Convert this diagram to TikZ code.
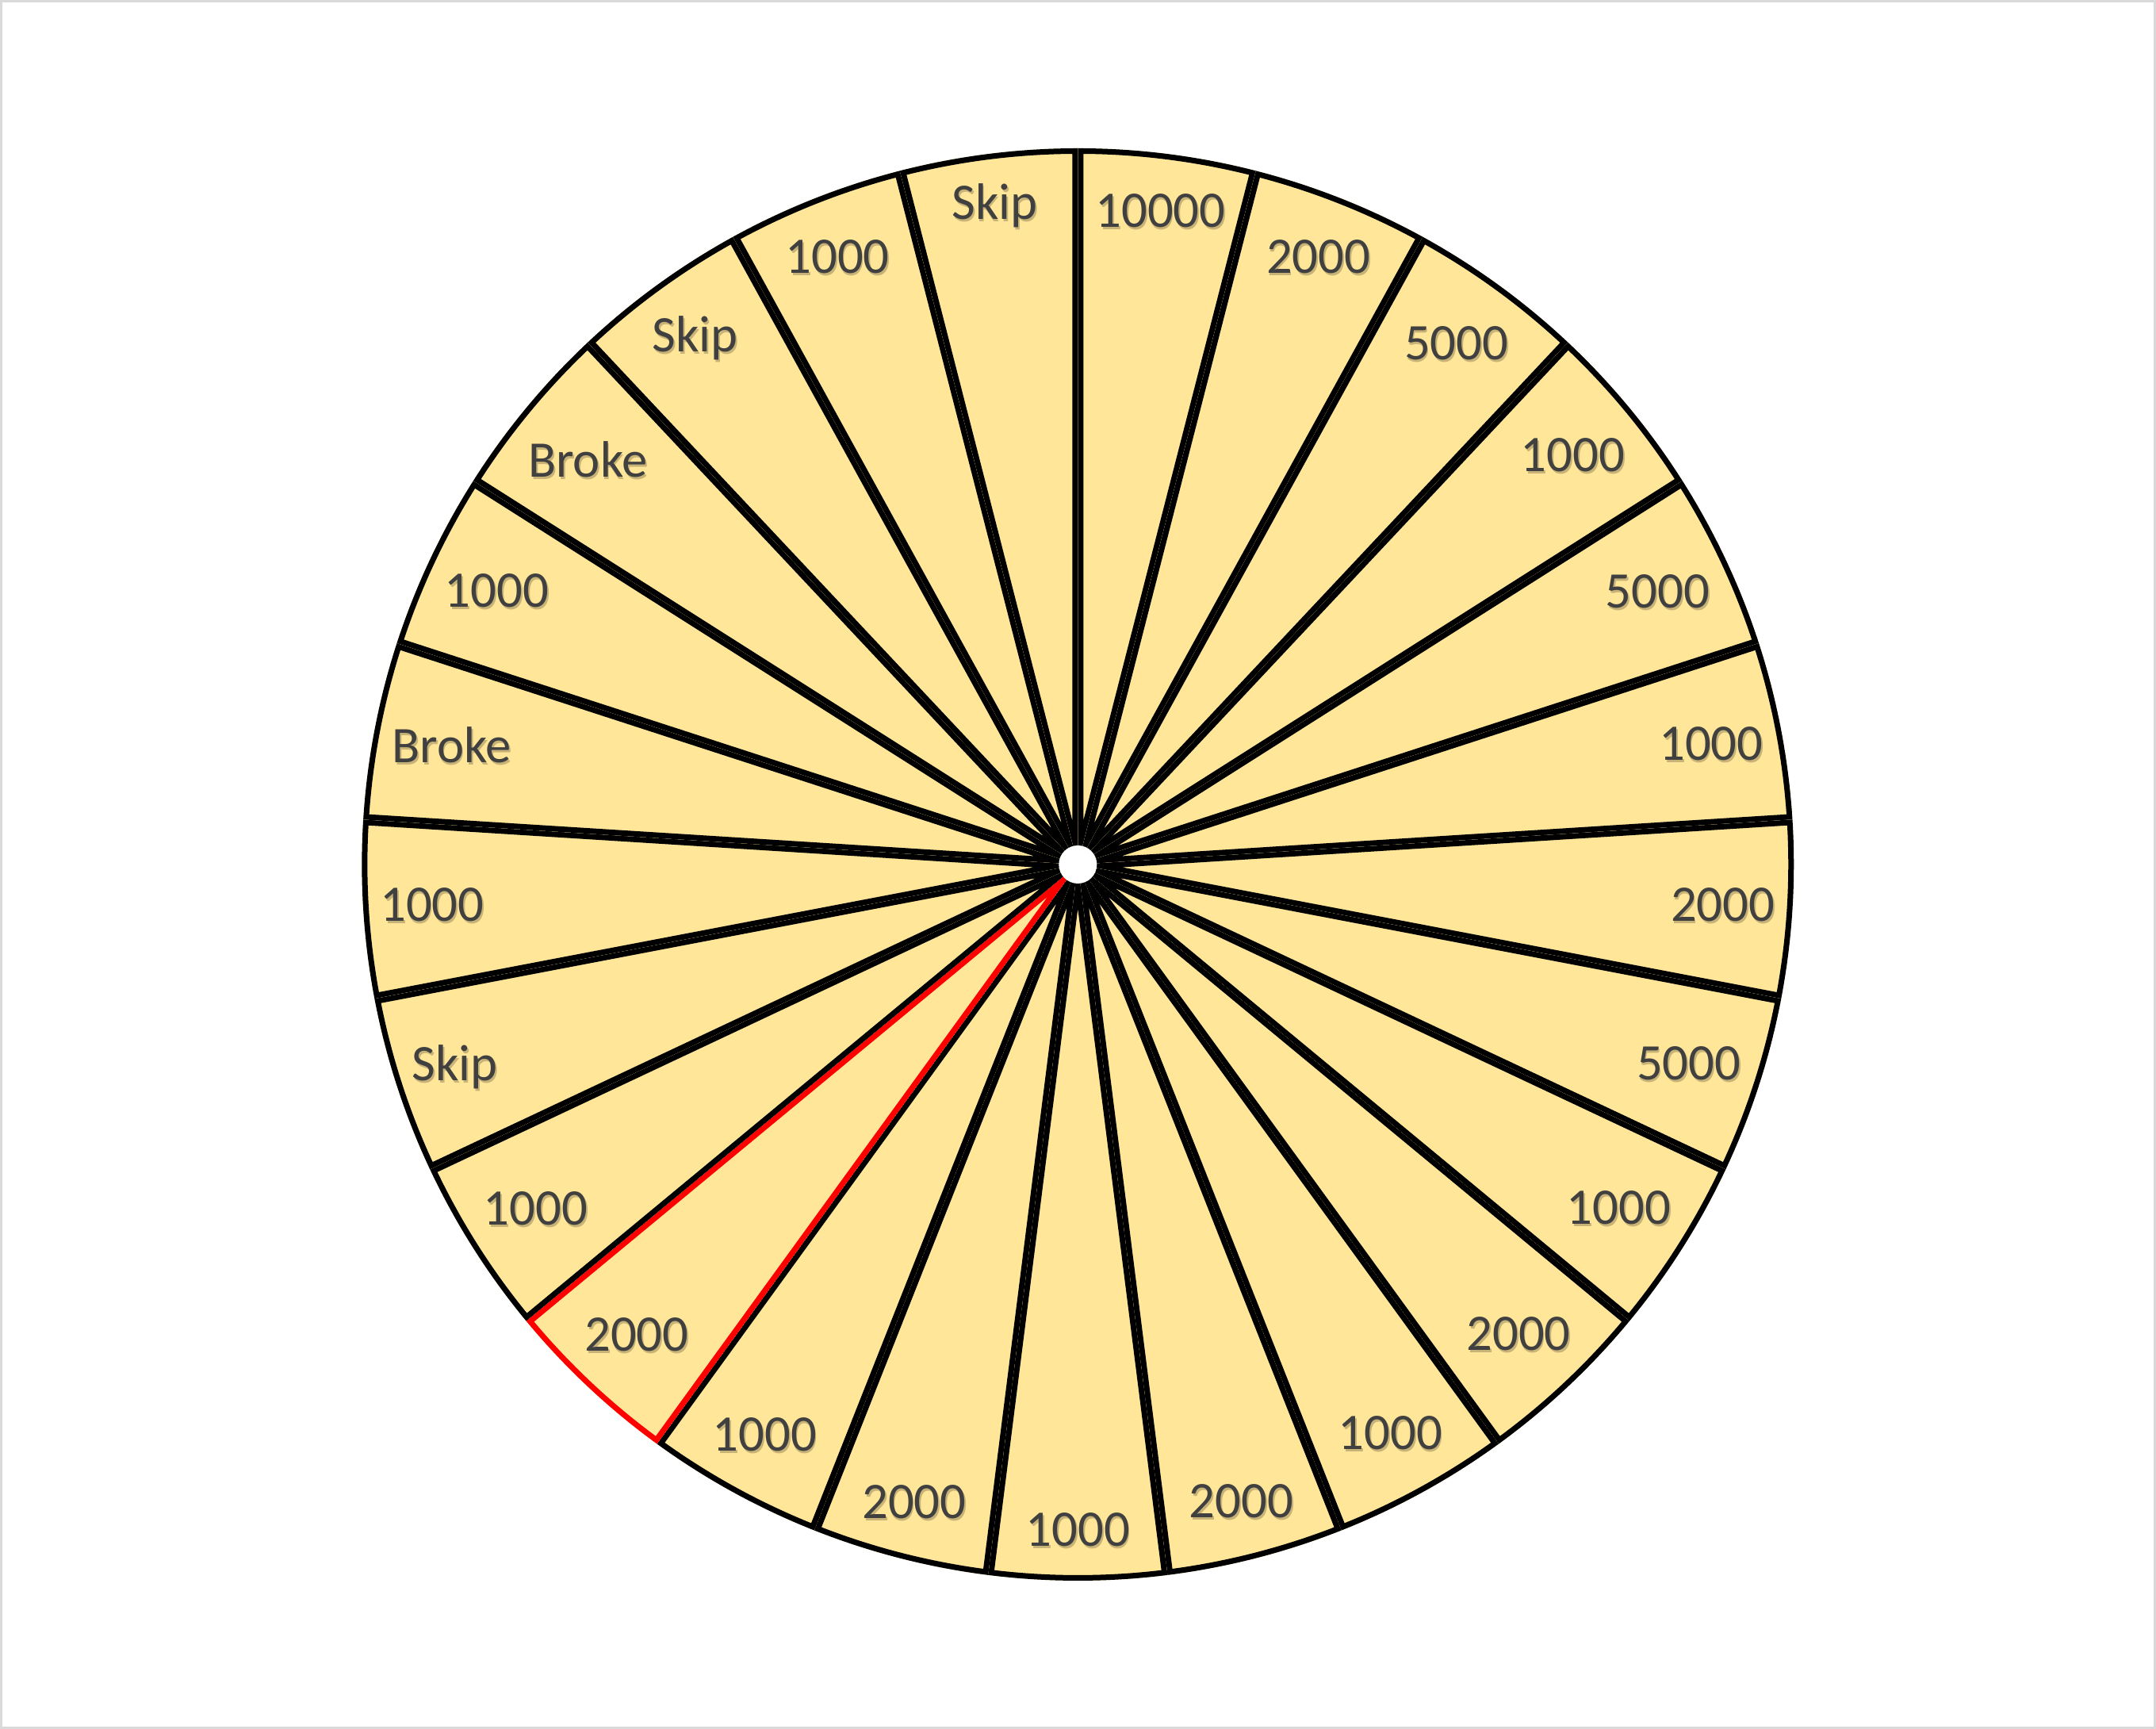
\documentclass[tikz,border=0pt]{standalone}
\usepackage{fontspec}
\setmainfont{Carlito}
\definecolor{wheelfill}{HTML}{FFE699}
\definecolor{txt}{HTML}{404040}
\definecolor{framegray}{HTML}{D9D9D9}
\begin{document}
\begin{tikzpicture}[
  lbl/.style={text=txt, font=\fontsize{18.4}{22}\selectfont, inner sep=0pt},
  shd/.style={text=black, text opacity=0.22, font=\fontsize{18.4}{22}\selectfont, inner sep=0pt},
]
\useasboundingbox (0,0) rectangle (27.19,21.80);
\draw[framegray, line width=0.03cm] (0.015,0.015) rectangle (27.175,21.785);
\coordinate (c) at (13.593,10.90);
\def\R{9.03}
\foreach \k in {1,...,25} {
  \pgfmathsetmacro\a{90-14.4*(\k-1)}
  \pgfmathsetmacro\b{90-14.4*\k}
  \ifnum\k=16 \def\col{red}\else\def\col{black}\fi
  \begin{scope}
    \clip (c) -- ++(\a:\R) arc[start angle=\a, end angle=\b, radius=\R] -- cycle;
    \fill[wheelfill] (c) -- ++(\a:\R) arc[start angle=\a, end angle=\b, radius=\R] -- cycle;
    \draw[draw=\col, line width=0.14cm, line join=round] (c) -- ++(\a:\R) arc[start angle=\a, end angle=\b, radius=\R] -- cycle;
  \end{scope}
}
\node[circle, fill=white, minimum size=0.48cm, inner sep=0pt] (hub) at (c) {};
\foreach \lab/\rad [count=\k] in {10000/8.31, 2000/8.24, 5000/8.12, 1000/8.10, 5000/8.08, 1000/8.13, 2000/8.15, 5000/8.10, 1000/8.08, 2000/8.12, 1000/8.18, 2000/8.29, 1000/8.39, 2000/8.30, 1000/8.20, 2000/8.13, 1000/8.10, Skip/8.26, 1000/8.16, Broke/8.04, 1000/8.10, Broke/8.02, Skip/8.21, 1000/8.24, Skip/8.37} {
  \pgfmathsetmacro\m{90-14.4*(\k-0.5)}
  \node[shd] (s\k) at ([shift={(0.018,-0.03)}]c) [shift={(\m:\rad)}] {\lab};
  \node[lbl] (l\k) at (c) [shift={(\m:\rad)}] {\lab};
}
\end{tikzpicture}
\end{document}
